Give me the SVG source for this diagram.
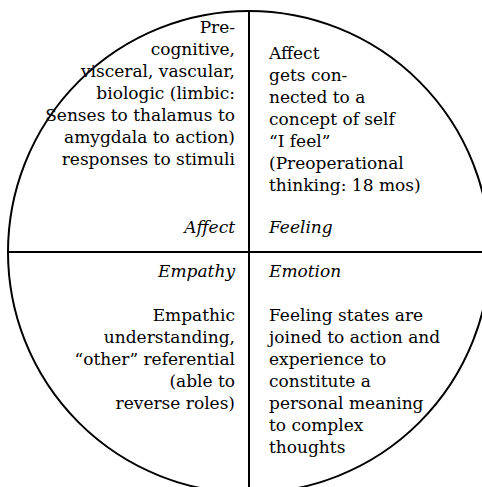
<svg xmlns="http://www.w3.org/2000/svg" width="482" height="487" viewBox="0 0 482 487">
<style>
.t{font-family:"DejaVu Serif","Liberation Serif",serif;font-size:17px;fill:#000}
.r{text-anchor:end}
.i{font-style:italic}
.ln{stroke:#000;stroke-width:2;fill:none}
</style>
<rect width="482" height="487" fill="#fff"/>
<g id="connectors">
<circle class="ln" cx="249" cy="252" r="241"/>
<line class="ln" x1="249" y1="11" x2="249" y2="487"/>
<line class="ln" x1="8" y1="252" x2="482" y2="252"/>
</g>
<g id="affect">
<text class="t r" x="235" y="33">Pre-</text>
<text class="t r" x="235" y="55">cognitive,</text>
<text class="t r" x="235" y="77">visceral, vascular,</text>
<text class="t r" x="235" y="99">biologic (limbic:</text>
<text class="t r" x="235" y="121">Senses to thalamus to</text>
<text class="t r" x="235" y="143">amygdala to action)</text>
<text class="t r" x="235" y="165">responses to stimuli</text>
<text class="t r i" x="235" y="233">Affect</text>
</g>
<g id="feeling">
<text class="t" x="269" y="59">Affect</text>
<text class="t" x="269" y="81">gets con-</text>
<text class="t" x="269" y="103">nected to a</text>
<text class="t" x="269" y="125">concept of self</text>
<text class="t" x="269" y="147">“I feel”</text>
<text class="t" x="269" y="169">(Preoperational</text>
<text class="t" x="269" y="191">thinking: 18 mos)</text>
<text class="t i" x="269" y="233">Feeling</text>
</g>
<g id="empathy">
<text class="t r i" x="235" y="277">Empathy</text>
<text class="t r" x="235" y="321">Empathic</text>
<text class="t r" x="235" y="343">understanding,</text>
<text class="t r" x="235" y="365">“other” referential</text>
<text class="t r" x="235" y="387">(able to</text>
<text class="t r" x="235" y="409">reverse roles)</text>
</g>
<g id="emotion">
<text class="t i" x="269" y="277">Emotion</text>
<text class="t" x="269" y="321">Feeling states are</text>
<text class="t" x="269" y="343">joined to action and</text>
<text class="t" x="269" y="365">experience to</text>
<text class="t" x="269" y="387">constitute a</text>
<text class="t" x="269" y="409">personal meaning</text>
<text class="t" x="269" y="431">to complex</text>
<text class="t" x="269" y="453">thoughts</text>
</g>
</svg>
